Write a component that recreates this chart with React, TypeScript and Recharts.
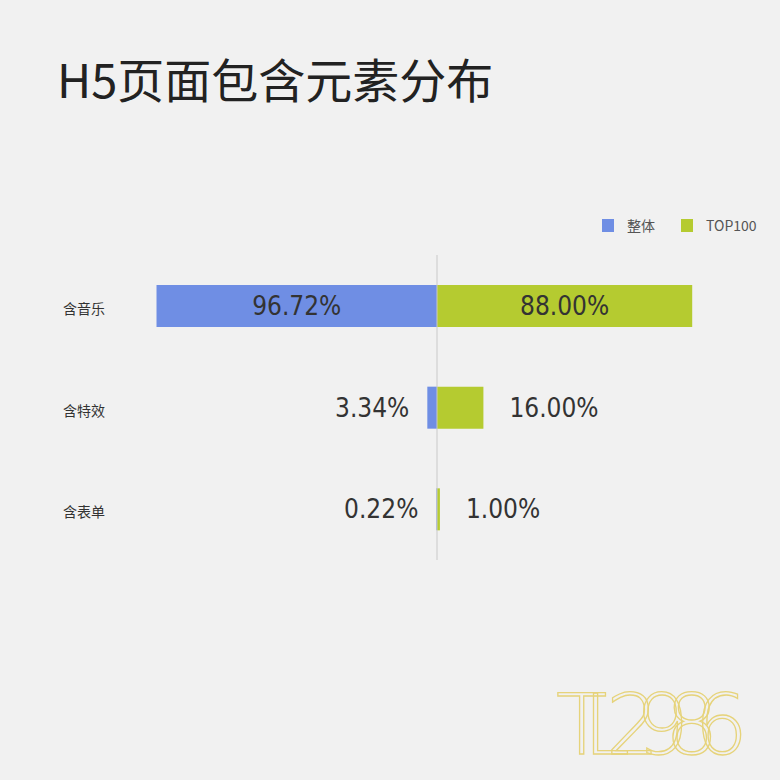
import { BarChart, Bar, XAxis, YAxis, ReferenceLine, LabelList, Legend } from "recharts";

const categories = ["含音乐", "含特效", "含表单"];
const overall = [96.72, 3.34, 0.22];
const top100 = [88.0, 16.0, 1.0];
const seriesNames = ["整体", "TOP100"];

const BLUE = "#6f8ee4";
const GREEN = "#b5cb30";
const VALUE_FONT = "'DejaVu Sans Condensed', 'Liberation Sans Narrow', 'Noto Sans', sans-serif";
const CJK_FONT = "'Noto Sans CJK SC', 'Noto Sans', sans-serif";

const data = categories.map((name, i) => ({
  name,
  overall: -overall[i],
  top: top100[i],
}));

function makeLabel(values: number[], side: "left" | "right") {
  return (props: any) => {
    const { x, y, width, height, index } = props;
    const left = Math.min(x, x + width);
    const right = Math.max(x, x + width);
    const w = Math.abs(width);
    const cy = y + height / 2;
    const text = values[index].toFixed(2) + "%";
    let tx = (left + right) / 2;
    let anchor: "middle" | "start" | "end" = "middle";
    if (w < 120) {
      if (side === "left") {
        tx = left - 18;
        anchor = "end";
      } else {
        tx = right + 26;
        anchor = "start";
      }
    }
    return (
      <text
        x={tx}
        y={cy}
        textAnchor={anchor}
        dominantBaseline="central"
        fontFamily={VALUE_FONT}
        fontSize={26}
        fill="#333"
      >
        {text}
      </text>
    );
  };
}

function CategoryTick(props: any) {
  const { y, payload } = props;
  return (
    <text x={63} y={y + 2} dominantBaseline="central" fontFamily={CJK_FONT} fontSize={14} fill="#333">
      {payload.value}
    </text>
  );
}

function LegendContent() {
  const colors = [BLUE, GREEN];
  return (
    <div style={{ display: "flex", alignItems: "center", fontFamily: CJK_FONT, fontSize: 14, color: "#555" }}>
      {seriesNames.map((n, i) => (
        <div key={n} style={{ display: "flex", alignItems: "center", marginRight: i === 0 ? 26 : 0 }}>
          <span style={{ display: "inline-block", width: 12, height: 13, background: colors[i], marginRight: 13 }} />
          <span>{n}</span>
        </div>
      ))}
    </div>
  );
}

export default function App() {
  return (
    <div
      style={{
        position: "absolute",
        left: 0,
        top: 0,
        width: 780,
        height: 780,
        background: "#f1f1f1",
        overflow: "hidden",
      }}
    >
      <div
        style={{
          position: "absolute",
          left: 57,
          top: 51,
          fontFamily: CJK_FONT,
          fontSize: 47,
          color: "#222",
          lineHeight: "54px",
          whiteSpace: "nowrap",
        }}
      >
        H5页面包含元素分布
      </div>

      <BarChart
        width={780}
        height={780}
        data={data}
        layout="vertical"
        stackOffset="sign"
        barSize={42}
        margin={{ top: 255, right: 53, bottom: 220, left: 0 }}
      >
        <XAxis type="number" domain={[-100, 100]} hide />
        <YAxis type="category" dataKey="name" width={147} axisLine={false} tickLine={false} tick={<CategoryTick />} />
        <Legend
          layout="vertical"
          align="center"
          verticalAlign="middle"
          content={<LegendContent />}
          wrapperStyle={{ top: 215, left: 602, width: 180 }}
        />
        <ReferenceLine x={0} stroke="#c9c9c9" strokeWidth={1} />
        <Bar dataKey="overall" stackId="a" fill={BLUE} isAnimationActive={false}>
          <LabelList dataKey="overall" content={makeLabel(overall, "left")} />
        </Bar>
        <Bar dataKey="top" stackId="a" fill={GREEN} isAnimationActive={false}>
          <LabelList dataKey="top" content={makeLabel(top100, "right")} />
        </Bar>
      </BarChart>

      <svg
        width={230}
        height={130}
        style={{ position: "absolute", left: 550, top: 650 }}
      >
        <text
          x={6}
          y={104}
          fontFamily="'DejaVu Sans', sans-serif"
          fontSize={84}
          fontWeight={200}
          letterSpacing={-24}
          fill="none"
          stroke="#e6d37a"
          strokeWidth={1.3}
        >
          TL2986
        </text>
      </svg>
    </div>
  );
}
